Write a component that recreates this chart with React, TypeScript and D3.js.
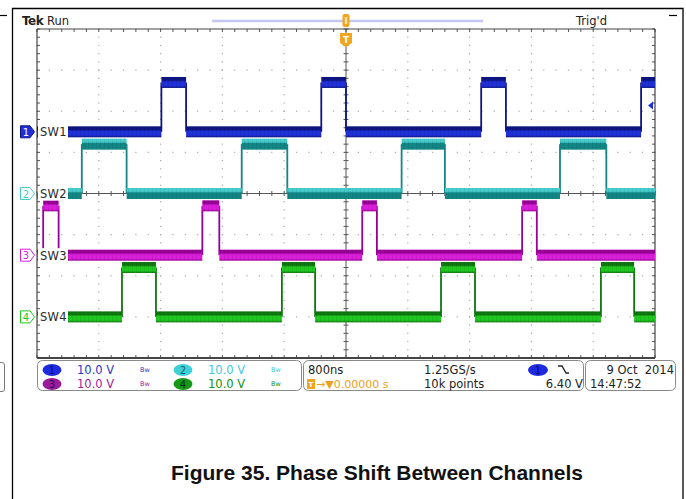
import { useMemo } from "react";
import * as d3 from "d3";

// time window of the scope record (ns), 800 ns/div, 10 divisions
const timeDomain = [-4000, 4000];
const voltDomain = [-4, 4]; // vertical divisions

const channelNames = ["SW1", "SW2", "SW3", "SW4"];
const channelIds = ["1", "2", "3", "4"];
const voltsPerDiv = [10, 10, 10, 10];
const groundOffsetDiv = [1.5, 0, -1.5, -3];
const highVolts = [12, 12, 12, 12];

// high intervals (ns, relative to trigger)
const sw1Pulses = [[-2390, -2070], [-320, 0], [1750, 2070], [3820, 4000]];
const sw2Pulses = [[-3420, -2840], [-1350, -760], [720, 1280], [2770, 3370]];
const sw3Pulses = [[-3920, -3720], [-1860, -1640], [210, 400], [2280, 2470]];
const sw4Pulses = [[-2900, -2460], [-830, -400], [1230, 1670], [3300, 3730]];
const pulses = [sw1Pulses, sw2Pulses, sw3Pulses, sw4Pulses];

const bright = ["#1f30d8", "#45cccc", "#dc1edc", "#1ec81e"];
const dark = ["#0d1584", "#128585", "#980098", "#0e760e"];
const infoColor = ["#2a36c8", "#44c8d4", "#a01ea0", "#119011"];

const timebase = "800ns";
const sampleRate = "1.25GS/s";
const recordLength = "10k points";
const trigLevel = "6.40 V";
const trigPos = "0.00000 s";
const dateText = "9 Oct  2014";
const timeText = "14:47:52";
const caption = "Figure 35. Phase Shift Between Channels";

const X0 = 37, X1 = 655, Y0 = 29, Y1 = 358;
const UI = "'DejaVu Sans', sans-serif";

export default function App() {
  const x = useMemo(() => d3.scaleLinear().domain(timeDomain).range([X0, X1]), []);
  const y = useMemo(() => d3.scaleLinear().domain(voltDomain).range([Y1, Y0]), []);

  const majorX = d3.range(0, 11).map((i) => X0 + ((X1 - X0) * i) / 10);
  const majorY = d3.range(0, 9).map((j) => Y0 + ((Y1 - Y0) * j) / 8);
  const minorX = d3.range(0, 51).map((i) => X0 + ((X1 - X0) * i) / 50);
  const minorY = d3.range(0, 41).map((j) => Y0 + ((Y1 - Y0) * j) / 40);
  const cx = majorX[5], cy = majorY[4];

  const traces = pulses.map((ps, c) => {
    const lowY = y(groundOffsetDiv[c]);
    const highY = y(groundOffsetDiv[c] + highVolts[c] / voltsPerDiv[c]);
    const segs: { x0: number; x1: number; y: number }[] = [];
    const edges: number[] = [];
    let t = timeDomain[0];
    ps.forEach(([a, b]) => {
      if (a > t) segs.push({ x0: x(t), x1: x(a), y: lowY });
      segs.push({ x0: x(a), x1: x(b), y: highY });
      if (a > timeDomain[0]) edges.push(x(a));
      if (b < timeDomain[1]) edges.push(x(b));
      t = b;
    });
    if (t < timeDomain[1]) segs.push({ x0: x(t), x1: x(timeDomain[1]), y: lowY });
    return { segs, edges, lowY, highY };
  });

  const trigY = y(groundOffsetDiv[0] + 6.4 / voltsPerDiv[0]);

  return (
    <div style={{ position: "absolute", left: 0, top: 0 }}>
      <svg width={686} height={499} style={{ display: "block", background: "#fff" }}>
        <defs>
          {bright.map((b, c) => (
            <linearGradient key={c} id={`band${c}`} x1="0" y1="0" x2="0" y2="1">
              <stop offset="0" stopColor={c === 1 ? b : dark[c]} />
              <stop offset="0.3" stopColor={c === 1 ? b : dark[c]} />
              <stop offset="0.45" stopColor={c === 1 ? dark[c] : b} />
              <stop offset="0.8" stopColor={c === 1 ? dark[c] : b} />
              <stop offset="1" stopColor={dark[c]} />
            </linearGradient>
          ))}
          <pattern id="noise" width="4" height="11" patternUnits="userSpaceOnUse">
            <rect x="0" y="0" width="1" height="11" fill="rgba(0,0,0,0.06)" />
          </pattern>
        </defs>

        {/* page frame */}
        <path d="M12.5,499 V8.5 H683 V499" fill="none" stroke="#000" strokeWidth={1.3} />
        <line x1={0} x2={7} y1={15.5} y2={15.5} stroke="#000" strokeWidth={1.2} />
        <line x1={669} x2={677} y1={15.5} y2={15.5} stroke="#000" strokeWidth={1.2} />
        <path d="M0,362.5 H2 Q4.5,362.5 4.5,365 V389 Q4.5,391.5 2,391.5 H0" fill="none" stroke="#777" strokeWidth={1} />

        {/* header */}
        <text x={22} y={25} fontFamily={UI} fontWeight="bold" fontSize={12} fill="#222" letterSpacing={-0.5}>Tek</text>
        <text x={47} y={25} fontFamily={UI} fontSize={11.5} fill="#222">Run</text>
        <text x={576} y={25} fontFamily={UI} fontSize={11.5} fill="#222">Trig'd</text>
        <line x1={212} x2={483} y1={21} y2={21} stroke="#c6c6f2" strokeWidth={2.5} />

        {/* graticule dots */}
        <g fill="#a8a8a8">
          {majorX.slice(1, 10).filter((_, i) => i !== 4).flatMap((gx) =>
            minorY.map((gy, k) => <rect key={`v${gx}-${k}`} x={gx - 0.6} y={gy - 0.6} width={1.2} height={1.2} />)
          )}
          {majorY.slice(1, 8).filter((_, j) => j !== 3).flatMap((gy) =>
            minorX.map((gx, k) => <rect key={`h${gy}-${k}`} x={gx - 0.6} y={gy - 0.6} width={1.2} height={1.2} />)
          )}
        </g>
        {/* center cross and border ticks */}
        <g stroke="#555" strokeWidth={1}>
          <line x1={X0} x2={X1} y1={cy} y2={cy} />
          <line x1={cx} x2={cx} y1={Y0} y2={Y1} />
          {minorX.map((gx, k) => <line key={`ct${k}`} x1={gx} x2={gx} y1={cy - 2.5} y2={cy + 2.5} />)}
          {minorY.map((gy, k) => <line key={`cv${k}`} x1={cx - 2.5} x2={cx + 2.5} y1={gy} y2={gy} />)}
          {minorX.map((gx, k) => <line key={`tt${k}`} x1={gx} x2={gx} y1={Y0} y2={Y0 + 3} />)}
          {minorX.map((gx, k) => <line key={`tb${k}`} x1={gx} x2={gx} y1={Y1 - 3} y2={Y1} />)}
          {minorY.map((gy, k) => <line key={`tl${k}`} x1={X0} x2={X0 + 3} y1={gy} y2={gy} />)}
          {minorY.map((gy, k) => <line key={`tr${k}`} x1={X1 - 3} x2={X1} y1={gy} y2={gy} />)}
        </g>
        <g stroke="#444" fill="none">
          <line x1={X0} x2={X1} y1={Y0} y2={Y0} strokeWidth={1.2} />
          <line x1={X0} x2={X0} y1={Y0} y2={Y1} strokeWidth={1.2} />
          <line x1={X1} x2={X1} y1={Y0} y2={Y1} strokeWidth={1.2} />
          <line x1={X0} x2={X1} y1={Y1} y2={Y1} strokeWidth={2.2} />
        </g>

        {/* traces */}
        {traces.map((tr, c) => (
          <g key={c}>
            {tr.edges.map((ex, k) => (
              <line key={k} x1={ex} x2={ex} y1={tr.lowY} y2={tr.highY} stroke={dark[c]} strokeWidth={1.8} />
            ))}
            {tr.segs.map((s, k) => (
              <g key={`s${k}`}>
                <rect x={s.x0} y={s.y - 5.5} width={Math.max(0, s.x1 - s.x0)} height={11} fill={`url(#band${c})`} />
                <rect x={s.x0} y={s.y - 5.5} width={Math.max(0, s.x1 - s.x0)} height={11} fill="url(#noise)" />
              </g>
            ))}
          </g>
        ))}

        {/* channel labels and ground markers */}
        {traces.map((tr, c) => (
          <g key={`lab${c}`}>
            <rect x={X0 + 1} y={tr.lowY - 7} width={30} height={14} fill="#fff" />
            <text x={40} y={tr.lowY + 4.5} fontFamily={UI} fontSize={11.5} fill="#2a2a2a" letterSpacing={0.3}>{channelNames[c]}</text>
            <path
              d={`M20.5,${tr.lowY - 6} H30 L34.5,${tr.lowY} L30,${tr.lowY + 6} H20.5 Z`}
              fill={c === 0 ? bright[0] : "#fff"}
              stroke={c === 0 ? dark[0] : bright[c]}
              strokeWidth={1}
            />
            <text x={26} y={tr.lowY + 4} textAnchor="middle" fontFamily={UI} fontSize={10} fill={c === 0 ? "#fff" : bright[c]}>{channelIds[c]}</text>
          </g>
        ))}

        {/* trigger level arrow */}
        <path d={`M648,${trigY} L653,${trigY - 4} V${trigY + 4} Z`} fill={bright[0]} />

        {/* trigger position marker */}
        <rect x={cx - 3.5} y={14} width={7} height={13} rx={2} fill="#f2a51f" />
        <rect x={cx - 1.2} y={17} width={2.4} height={7} fill="#fbe3a8" />
        <path d={`M${cx - 6},33 H${cx + 6} V43 L${cx},47 L${cx - 6},43 Z`} fill="#f2a51f" />
        <text x={cx} y={43} textAnchor="middle" fontFamily={UI} fontWeight="bold" fontSize={9} fill="#fff">T</text>

        {/* info boxes */}
        <g fill="none" stroke="#8a8a8a" strokeWidth={1}>
          <rect x={37.5} y={360.5} width={264} height={30} rx={5} />
          <rect x={303.5} y={360.5} width={280} height={30} rx={5} />
          <rect x={585.5} y={360.5} width={90} height={30} rx={5} />
        </g>
        {[0, 1, 2, 3].map((ch) => {
          const col = ch % 2;
          const row = ch < 2 ? 0 : 1;
          const ox = col === 0 ? 52 : 183;
          const oy = row === 0 ? 370 : 384;
          const ovalFill = ["#1d2be0", "#3fd0d8", "#9a1c9a", "#149a14"][ch];
          return (
            <g key={`info${ch}`}>
              <ellipse cx={ox} cy={oy} rx={9.5} ry={6} fill={ovalFill} />
              <text x={ox} y={oy + 3.8} textAnchor="middle" fontFamily={UI} fontSize={10} fill={ch === 1 ? "#0a4a50" : "#0a0a40"} opacity={0.8}>{channelIds[ch]}</text>
              <text x={ox + 25} y={oy + 4} fontFamily={UI} fontSize={11.5} fill={infoColor[ch]}>{`${voltsPerDiv[ch].toFixed(1)} V`}</text>
              <text x={ox + 88} y={oy + 2} fontFamily={UI} fontSize={6.5} fill={infoColor[ch]}>Bw</text>
            </g>
          );
        })}

        <text x={308} y={374} fontFamily={UI} fontSize={11.5} fill="#222">{timebase}</text>
        <rect x={307} y={379} width={8} height={10} fill="#f2a51f" />
        <text x={311} y={387} textAnchor="middle" fontFamily={UI} fontSize={7} fontWeight="bold" fill="#fff">T</text>
        <text x={316} y={388} fontFamily={UI} fontSize={11} fill="#f0a020">{`→▼${trigPos}`}</text>
        <text x={424} y={374} fontFamily={UI} fontSize={11.5} fill="#222">{sampleRate}</text>
        <text x={424} y={388} fontFamily={UI} fontSize={11.5} fill="#222">{recordLength}</text>
        <ellipse cx={538} cy={370} rx={10} ry={6} fill="#1d2be0" />
        <text x={538} y={374} textAnchor="middle" fontFamily={UI} fontSize={10} fill="#0a0a60">1</text>
        <path d="M558,366 H562 L566,373 H569" fill="none" stroke="#222" strokeWidth={1.3} />
        <text x={583} y={388} textAnchor="end" fontFamily={UI} fontSize={11.5} fill="#222">{trigLevel}</text>
        <text x={674} y={374} textAnchor="end" fontFamily={UI} fontSize={11.5} fill="#222" style={{ whiteSpace: "pre" }}>{dateText}</text>
        <text x={590} y={388} fontFamily={UI} fontSize={11.5} fill="#222">{timeText}</text>

        {/* caption */}
        <text x={377} y={480} textAnchor="middle" fontFamily="'Liberation Sans', Arial, sans-serif" fontWeight="bold" fontSize={21} fill="#111">{caption}</text>
      </svg>
    </div>
  );
}
